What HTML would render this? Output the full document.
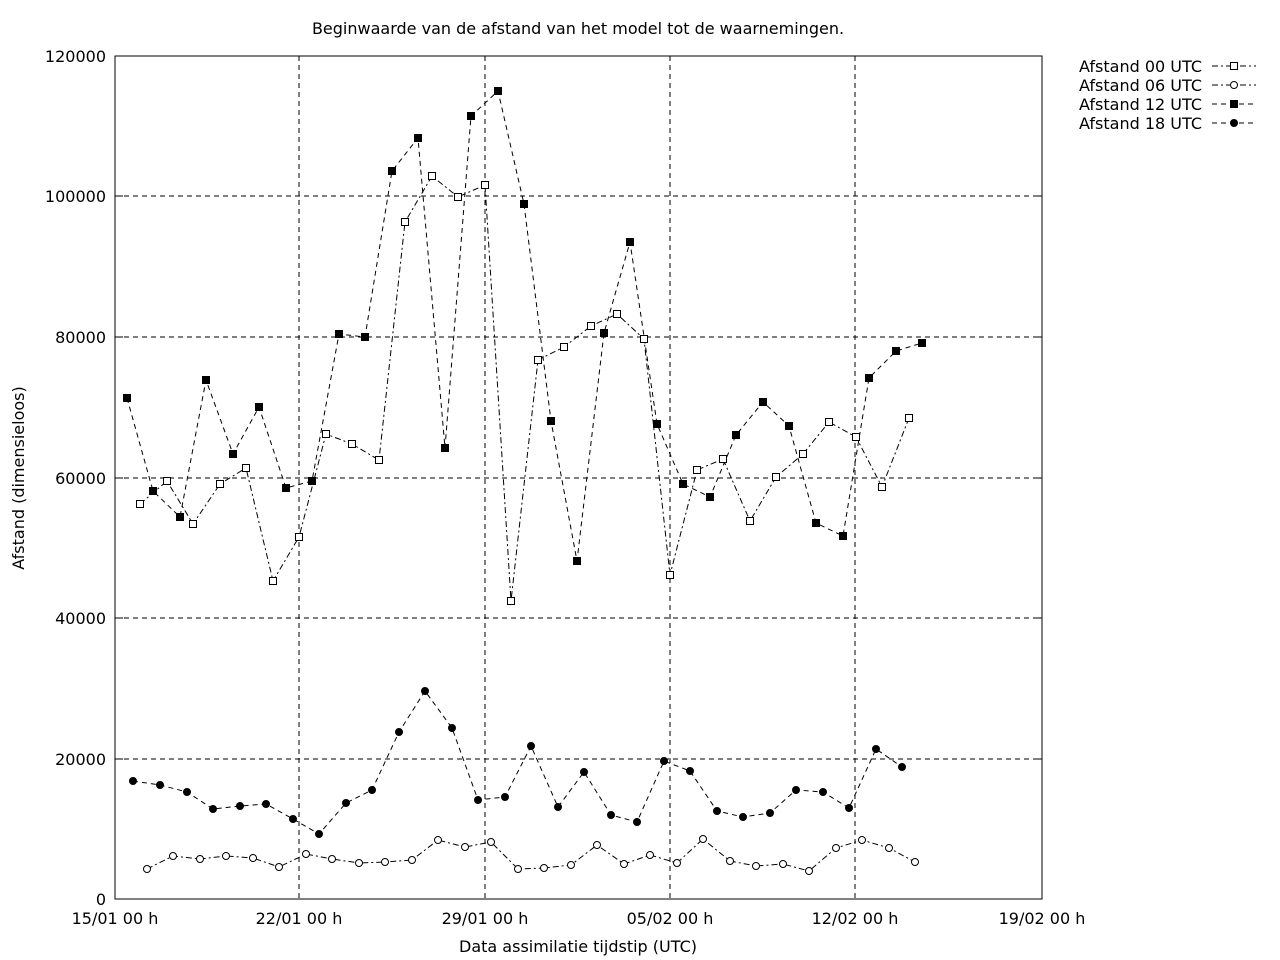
<!DOCTYPE html>
<html><head><meta charset="utf-8"><style>body{margin:0;background:#fff}svg{display:block}text{font-family:"DejaVu Sans","Liberation Sans",sans-serif;font-size:16px;fill:#000}</style></head><body>
<svg width="1280" height="960" viewBox="0 0 1280 960" xmlns="http://www.w3.org/2000/svg">
<rect width="1280" height="960" fill="#fff"/>
<g stroke="#000" stroke-width="1" stroke-dasharray="5,4" fill="none">
<line x1="115" y1="759" x2="1042" y2="759"/><line x1="115" y1="618" x2="1042" y2="618"/><line x1="115" y1="478" x2="1042" y2="478"/><line x1="115" y1="337" x2="1042" y2="337"/><line x1="115" y1="196" x2="1042" y2="196"/>
<line x1="299" y1="56" x2="299" y2="899"/><line x1="485" y1="56" x2="485" y2="899"/><line x1="670" y1="56" x2="670" y2="899"/><line x1="855" y1="56" x2="855" y2="899"/>
</g>
<rect x="115" y="56" width="927" height="843" fill="none" stroke="#000"/>
<g stroke="#000">
<line x1="115" y1="759" x2="123" y2="759"/><line x1="115" y1="618" x2="123" y2="618"/><line x1="115" y1="478" x2="123" y2="478"/><line x1="115" y1="337" x2="123" y2="337"/><line x1="115" y1="196" x2="123" y2="196"/>
<line x1="1042" y1="759" x2="1034" y2="759"/><line x1="1042" y1="618" x2="1034" y2="618"/><line x1="1042" y1="478" x2="1034" y2="478"/><line x1="1042" y1="337" x2="1034" y2="337"/><line x1="1042" y1="196" x2="1034" y2="196"/>
</g>
<g text-anchor="end">
<text x="106" y="905">0</text><text x="106" y="765">20000</text><text x="106" y="624">40000</text><text x="106" y="484">60000</text><text x="106" y="343">80000</text><text x="106" y="202">100000</text><text x="106" y="62">120000</text>
</g>
<g text-anchor="middle">
<text x="115" y="924">15/01 00 h</text><text x="299" y="924">22/01 00 h</text><text x="485" y="924">29/01 00 h</text><text x="670" y="924">05/02 00 h</text><text x="855" y="924">12/02 00 h</text><text x="1042" y="924">19/02 00 h</text>
<text x="578" y="952">Data assimilatie tijdstip (UTC)</text>
<text x="578" y="34">Beginwaarde van de afstand van het model tot de waarnemingen.</text>
<text transform="translate(24,478) rotate(-90)">Afstand (dimensieloos)</text>
</g>
<g text-anchor="end">
<text x="1202" y="72">Afstand 00 UTC</text><text x="1202" y="91">Afstand 06 UTC</text><text x="1202" y="110">Afstand 12 UTC</text><text x="1202" y="129">Afstand 18 UTC</text>
</g>
<g fill="none" stroke="#000" stroke-width="1">
<line x1="1212" y1="66" x2="1256" y2="66" stroke-dasharray="6,3,2,3"/>
<line x1="1212" y1="85" x2="1256" y2="85" stroke-dasharray="6,3,2,3"/>
<line x1="1212" y1="104" x2="1256" y2="104" stroke-dasharray="5,4"/>
<line x1="1212" y1="123" x2="1256" y2="123" stroke-dasharray="5,4"/>
<polyline stroke-dasharray="6,3,2,3" points="140,504 167,481 193,524 220,484 246,468 273,581 299,537 326,434 352,444 379,460 405,222 432,176 458,197 485,185 511,601 538,360 564,347 591,326 617,314 644,339 670,575 697,470 723,459 750,521 776,477 803,454 829,422 856,437 882,487 909,418"/>
<polyline stroke-dasharray="5,4" points="127,398 153,491 180,517 206,380 233,454 259,407 286,488 312,481 339,334 365,337 392,171 418,138 445,448 471,116 498,91 524,204 551,421 577,561 604,333 630,242 657,424 683,484 710,497 736,435 763,402 789,426 816,523 843,536 869,378 896,351 922,343"/>
<polyline stroke-dasharray="6,3,2,3" points="147,869 173,856 200,859 226,856 253,858 279,867 306,854 332,859 359,863 385,862 412,860 438,840 465,847 491,842 518,869 544,868 571,865 597,845 624,864 650,855 677,863 703,839 730,861 756,866 783,864 809,871 836,848 862,840 889,848 915,862"/>
<polyline stroke-dasharray="5,4" points="133,781 160,785 187,792 213,809 240,806 266,804 293,819 319,834 346,803 372,790 399,732 425,691 452,728 478,800 505,797 531,746 558,807 584,772 611,815 637,822 664,761 690,771 717,811 743,817 770,813 796,790 823,792 849,808 876,749 902,767"/>
</g>
<g id="m" stroke="#000"></g>
<script>
var ns="http://www.w3.org/2000/svg",g=document.getElementById("m");
function add(t,a){var e=document.createElementNS(ns,t);for(var k in a)e.setAttribute(k,a[k]);g.appendChild(e);}
var s00="140,504 167,481 193,524 220,484 246,468 273,581 299,537 326,434 352,444 379,460 405,222 432,176 458,197 485,185 511,601 538,360 564,347 591,326 617,314 644,339 670,575 697,470 723,459 750,521 776,477 803,454 829,422 856,437 882,487 909,418 1234,66";
var s12="127,398 153,491 180,517 206,380 233,454 259,407 286,488 312,481 339,334 365,337 392,171 418,138 445,448 471,116 498,91 524,204 551,421 577,561 604,333 630,242 657,424 683,484 710,497 736,435 763,402 789,426 816,523 843,536 869,378 896,351 922,343 1234,104";
var s06="147,869 173,856 200,859 226,856 253,858 279,867 306,854 332,859 359,863 385,862 412,860 438,840 465,847 491,842 518,869 544,868 571,865 597,845 624,864 650,855 677,863 703,839 730,861 756,866 783,864 809,871 836,848 862,840 889,848 915,862 1234,85";
var s18="133,781 160,785 187,792 213,809 240,806 266,804 293,819 319,834 346,803 372,790 399,732 425,691 452,728 478,800 505,797 531,746 558,807 584,772 611,815 637,822 664,761 690,771 717,811 743,817 770,813 796,790 823,792 849,808 876,749 902,767 1234,123";
function each(s,f){s.split(" ").forEach(function(p){var q=p.split(",");f(+q[0],+q[1]);});}
each(s00,function(x,y){add("rect",{x:x-3.5,y:y-3.5,width:7,height:7,fill:"#fff"});});
each(s12,function(x,y){add("rect",{x:x-3.5,y:y-3.5,width:7,height:7,fill:"#000"});});
each(s06,function(x,y){add("circle",{cx:x,cy:y,r:3.5,fill:"#fff"});});
each(s18,function(x,y){add("circle",{cx:x,cy:y,r:3.5,fill:"#000"});});
</script>
</svg>
</body></html>
